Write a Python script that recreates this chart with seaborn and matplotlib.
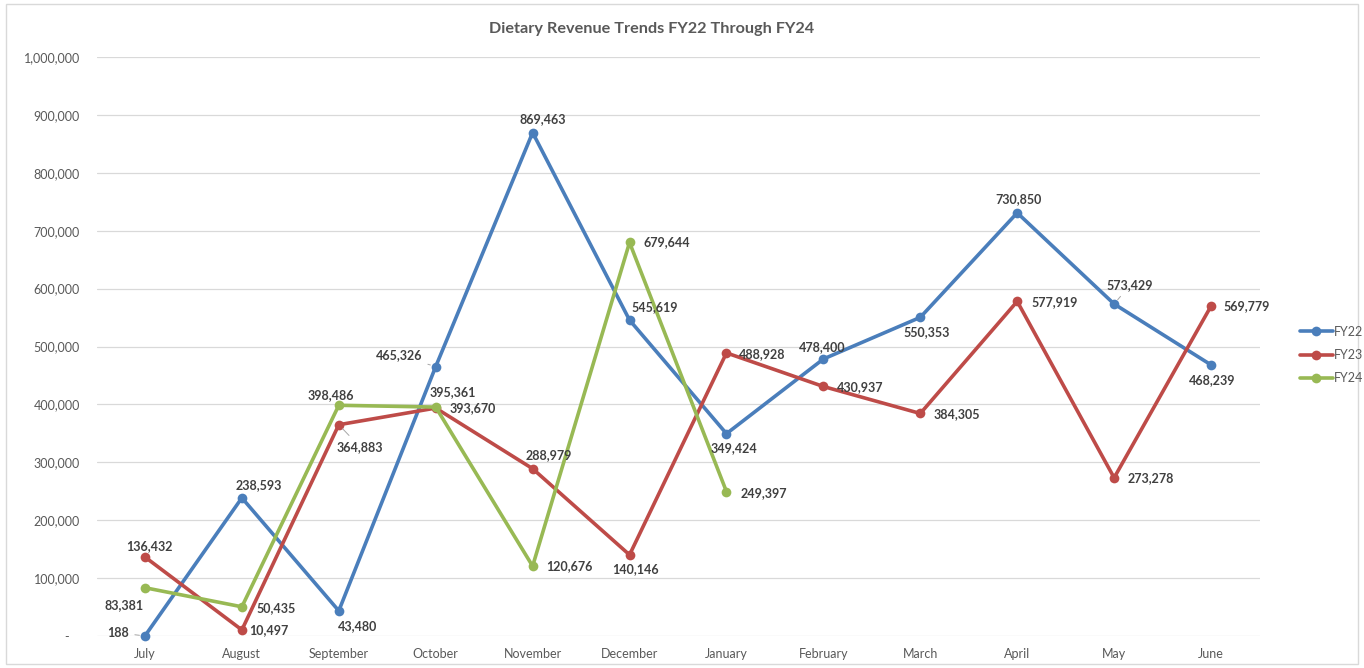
import pandas as pd
import seaborn as sns
import matplotlib.pyplot as plt
from matplotlib.patches import Rectangle
from matplotlib.lines import Line2D
from matplotlib.ticker import FuncFormatter

months = ['July', 'August', 'September', 'October', 'November', 'December',
          'January', 'February', 'March', 'April', 'May', 'June']
fy22 = [188, 238593, 43480, 465326, 869463, 545619,
        349424, 478400, 550353, 730850, 573429, 468239]
fy23 = [136432, 10497, 364883, 393670, 288979, 140146,
        488928, 430937, 384305, 577919, 273278, 569779]
fy24 = [83381, 50435, 398486, 395361, 120676, 679644, 249397]
series = ['FY22', 'FY23', 'FY24']
colors = ['#4A7EBB', '#BE4B48', '#98B954']

# label offsets in pixels (dx, dy up), and which labels have a leader line
offsets = {
    'FY22': [(-27, 3), (17, 13), (19, -15), (-37, 11), (10, 14), (25, 13),
             (7, -14), (-1, 12), (6, -15), (1, 14), (16, 19), (1, -15)],
    'FY23': [(4, 11), (27, 0), (21, -22), (37, 0), (16, 14), (6, -14),
             (36, -1), (37, -1), (37, -1), (37, -1), (37, 0), (36, 0)],
    'FY24': [(-21, -17), (34, -1), (-8, 10), (17, 15), (37, 0), (37, 0), (37, -1)],
}
leaders = {('FY22', 0), ('FY22', 3), ('FY22', 10), ('FY23', 2)}

rows = []
for name, vals in zip(series, [fy22, fy23, fy24]):
    for m, v in zip(months, vals):
        rows.append({'Month': m, 'Revenue': v, 'FY': name})
df = pd.DataFrame(rows)

sns.set_style('white')
plt.rcParams['font.family'] = ['Lato', 'DejaVu Sans']

fig = plt.figure(figsize=(13.64, 6.68), dpi=100)
ax = fig.add_axes([96.5 / 1364, (668 - 636) / 668, 1163 / 1364, 579 / 668])

sns.lineplot(data=df, x='Month', y='Revenue', hue='FY', palette=colors,
             marker='o', markersize=7, markeredgewidth=0, linewidth=2.6,
             sort=False, legend=False, ax=ax)
for ln in ax.lines:
    ln.set_clip_on(False)

ax.set_xlim(-0.5, 11.5)
ax.set_ylim(0, 1000000)
ax.set_yticks(range(0, 1000001, 100000))
ax.yaxis.set_major_formatter(FuncFormatter(lambda v, p: '-   ' if v == 0 else f'{int(v):,}'))
ax.grid(axis='y', color='#D9D9D9', lw=0.9)
ax.grid(axis='x', visible=False)
for s in ax.spines.values():
    s.set_visible(False)
ax.tick_params(axis='both', length=0, labelsize=9, labelcolor='#595959')
ax.tick_params(axis='y', pad=12)
ax.tick_params(axis='x', pad=9)
ax.set_xlabel('')
ax.set_ylabel('')

for name, vals in zip(series, [fy22, fy23, fy24]):
    for i, v in enumerate(vals):
        dx, dy = offsets[name][i]
        kw = {}
        if (name, i) in leaders:
            kw['arrowprops'] = dict(arrowstyle='-', color='#A6A6A6', lw=0.7,
                                    shrinkA=2, shrinkB=4)
        ax.annotate(f'{v:,}', xy=(i, v), xytext=(dx, dy), textcoords='offset pixels',
                    ha='center', va='center', fontsize=9, fontweight='bold',
                    color='#404040', **kw)

fig.text(652 / 1364, 1 - 29 / 668, 'Dietary Revenue Trends FY22 Through FY24',
         ha='center', va='center', fontsize=11.7, fontweight='bold', color='#595959')

handles = [Line2D([], [], color=c, lw=2.6, marker='o', markersize=7, markeredgewidth=0)
           for c in colors]
fig.legend(handles, series, loc='center left', bbox_to_anchor=(1300 / 1364, 1 - 355 / 668),
           frameon=False, fontsize=9, labelcolor='#595959', handlelength=2.6,
           handletextpad=0.1, labelspacing=0.9, borderaxespad=0, borderpad=0)

fig.patches.append(Rectangle((6 / 1364, 4 / 668), 1352 / 1364, 660 / 668,
                             transform=fig.transFigure, fill=False,
                             edgecolor='#D9D9D9', lw=1))

fig.savefig('out.png', dpi=100)
